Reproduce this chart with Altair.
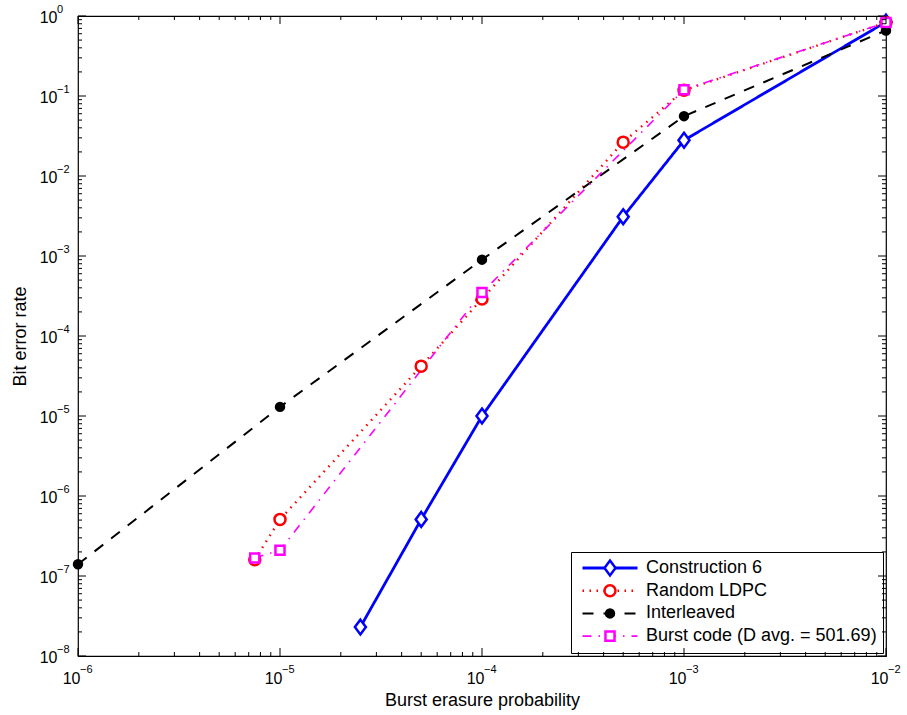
import altair as alt
import pandas as pd

# ---- data ----
series_names = ["Construction 6", "Random LDPC", "Interleaved", "Burst code (D avg. = 501.69)"]

c6_x = [2.5e-5, 5e-5, 1e-4, 5e-4, 1e-3, 1e-2]
c6_y = [2.3e-8, 5.1e-7, 1.0e-5, 3.1e-3, 2.8e-2, 0.84]

ldpc_x = [7.5e-6, 1e-5, 5e-5, 1e-4, 5e-4, 1e-3, 1e-2]
ldpc_y = [1.6e-7, 5.1e-7, 4.2e-5, 2.9e-4, 2.65e-2, 0.118, 0.83]

inter_x = [1e-6, 1e-5, 1e-4, 1e-3, 1e-2]
inter_y = [1.4e-7, 1.3e-5, 9.0e-4, 5.6e-2, 0.66]

burst_x = [7.5e-6, 1e-5, 1e-4, 1e-3, 1e-2]
burst_y = [1.68e-7, 2.1e-7, 3.5e-4, 0.12, 0.83]

x_major = [1e-6, 1e-5, 1e-4, 1e-3, 1e-2]
x_exp = ["\u22126", "\u22125", "\u22124", "\u22123", "\u22122"]
y_major = [1e-8, 1e-7, 1e-6, 1e-5, 1e-4, 1e-3, 1e-2, 1e-1, 1.0]
y_exp = ["\u22128", "\u22127", "\u22126", "\u22125", "\u22124", "\u22123", "\u22122", "\u22121", "0"]

x_minor = [k * 10.0 ** e for e in range(-6, -2) for k in range(2, 10)]
y_minor = [k * 10.0 ** e for e in range(-8, 0) for k in range(2, 10)]

# ---- tables ----
rows = []
for i, (name, xs, ys) in enumerate(zip(series_names, [c6_x, ldpc_x, inter_x, burst_x],
                                       [c6_y, ldpc_y, inter_y, burst_y])):
    for xv, yv in zip(xs, ys):
        rows.append({"x": xv, "y": yv, "Series": name, "key": str(i + 1)})
df = pd.DataFrame(rows)

W, H = 808, 640
FONT = "Liberation Sans"

colors = ["#0000ff", "#ff0000", "#000000", "#ff00ff"]
dashes = [[1, 0], [1.5, 5.5], [11, 10], [9, 7, 1.5, 7]]
widths = [2.8, 1.6, 2.8, 2.8]
paths = [
    "M0,-0.27L0.2,0L0,0.27L-0.2,0Z",
    "M-0.2,0A0.2,0.2 0 1,0 0.2,0A0.2,0.2 0 1,0 -0.2,0Z",
    "M-0.145,0A0.145,0.145 0 1,0 0.145,0A0.145,0.145 0 1,0 -0.145,0Z",
    "M-0.165,-0.165L0.165,-0.165L0.165,0.165L-0.165,0.165Z",
]
fills = ["white", "white", "black", "white"]

xscale = alt.Scale(type="log", domain=[1e-6, 1e-2], nice=False)
yscale = alt.Scale(type="log", domain=[1e-8, 1.0], nice=False)

x_axis = alt.Axis(values=x_major, labelExpr="'10'", ticks=False, domain=False, grid=False,
                  title="Burst erasure probability", labelFont=FONT, labelFontSize=16,
                  labelColor="black", labelPadding=27, labelBaseline="alphabetic",
                  labelAlign="right", labelOffset=2,
                  titleFont=FONT, titleFontSize=18,
                  titleFontWeight="normal", titleColor="black", titlePadding=5,
                  labelFlush=False, labelOverlap=False)
y_axis = alt.Axis(values=y_major, labelExpr="'10'", ticks=False, domain=False, grid=False,
                  title="Bit error rate", labelFont=FONT, labelFontSize=16,
                  labelColor="black", labelPadding=21, labelBaseline="alphabetic",
                  labelAlign="right", labelOffset=6,
                  titleFont=FONT, titleFontSize=18,
                  titleFontWeight="normal", titleColor="black", titlePadding=10,
                  labelFlush=False, labelOverlap=False)

LX, LY = 493, 536
common_leg = dict(orient="none", legendX=LX, legendY=LY, title=None, symbolSize=3025,
                  clipHeight=20, rowPadding=2.7, padding=6, labelFont=FONT, labelFontSize=18,
                  labelColor="black", symbolOffset=4, labelOffset=7, labelLimit=400)
legA = alt.Legend(symbolType="stroke", symbolStrokeWidth=2.8, strokeColor="black",
                  symbolFillColor="transparent", **common_leg)
legB = alt.Legend(symbolStrokeWidth=2.5, labelExpr="''", **common_leg)

lines = alt.Chart(df).mark_line(clip=True).encode(
    x=alt.X("x:Q", scale=xscale, axis=x_axis),
    y=alt.Y("y:Q", scale=yscale, axis=y_axis),
    color=alt.Color("Series:N", scale=alt.Scale(domain=series_names, range=colors), legend=legA),
    strokeDash=alt.StrokeDash("Series:N", scale=alt.Scale(domain=series_names, range=dashes), legend=legA),
    strokeWidth=alt.StrokeWidth("Series:N", scale=alt.Scale(domain=series_names, range=widths), legend=None),
)

points = alt.Chart(df).mark_point(filled=False, size=3025, strokeWidth=2.5, opacity=1).encode(
    x=alt.X("x:Q", scale=xscale, axis=x_axis),
    y=alt.Y("y:Q", scale=yscale, axis=y_axis),
    stroke=alt.Stroke("key:N", scale=alt.Scale(range=colors), legend=legB),
    shape=alt.Shape("key:N", scale=alt.Scale(range=paths), legend=legB),
    fill=alt.Fill("key:N", scale=alt.Scale(range=fills), legend=legB),
)

def xticks(vals, length):
    d = pd.DataFrame({"v": vals})
    bottom = alt.Chart(d).mark_rule(color="black", strokeWidth=1).encode(
        x=alt.X("v:Q", scale=xscale, axis=x_axis), y=alt.value(H), y2=alt.value(H - length))
    top = alt.Chart(d).mark_rule(color="black", strokeWidth=1).encode(
        x=alt.X("v:Q", scale=xscale, axis=x_axis), y=alt.value(0), y2=alt.value(length))
    return [bottom, top]

def yticks(vals, length):
    d = pd.DataFrame({"v": vals})
    left = alt.Chart(d).mark_rule(color="black", strokeWidth=1).encode(
        y=alt.Y("v:Q", scale=yscale, axis=y_axis), x=alt.value(0), x2=alt.value(length))
    right = alt.Chart(d).mark_rule(color="black", strokeWidth=1).encode(
        y=alt.Y("v:Q", scale=yscale, axis=y_axis), x=alt.value(W), x2=alt.value(W - length))
    return [left, right]

tick_layers = xticks(x_major, 8) + xticks(x_minor, 4) + yticks(y_major, 8) + yticks(y_minor, 4)

# exponents of the tick labels (10^n), placed next to the "10" labels
xexp_df = pd.DataFrame({"v": x_major, "t": x_exp})
yexp_df = pd.DataFrame({"v": y_major, "t": y_exp})
x_exps = alt.Chart(xexp_df).mark_text(align="left", baseline="alphabetic", font=FONT,
                                      fontSize=11, dx=2, color="black").encode(
    x=alt.X("v:Q", scale=xscale, axis=x_axis), y=alt.value(H + 17), text="t:N")
y_exps = alt.Chart(yexp_df).mark_text(align="left", baseline="alphabetic", font=FONT,
                                      fontSize=11, dy=-3, color="black").encode(
    y=alt.Y("v:Q", scale=yscale, axis=y_axis), x=alt.value(-21), text="t:N")

chart = alt.layer(lines, points, *tick_layers, x_exps, y_exps).properties(
    width=W, height=H,
    autosize=alt.AutoSizeParams(type="none"),
    padding={"left": 78, "top": 16, "right": 21, "bottom": 59},
    background="white",
).configure_view(stroke="black", strokeWidth=1.2)

chart.save("out.html", embed_options={"renderer": "svg", "actions": False})
